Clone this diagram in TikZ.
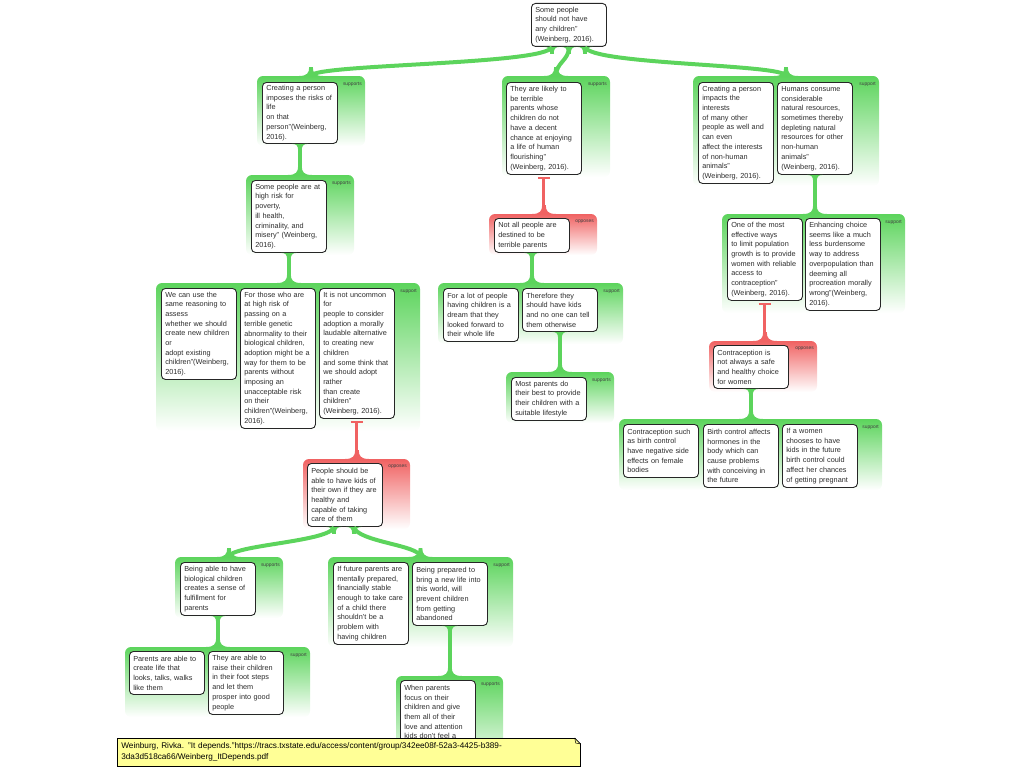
\documentclass[tikz,border=0pt]{standalone}
\usepackage{fontspec}
\setmainfont{Liberation Sans}
\usetikzlibrary{calc}
\definecolor{mapgreen}{RGB}{92,212,92}
\definecolor{mapred}{RGB}{240,98,98}
\definecolor{noteyellow}{RGB}{255,255,150}
\definecolor{ink}{RGB}{45,45,45}
\newcommand{\ideafont}{\fontsize{7.3}{9.7}\selectfont}
\newcommand{\tagfont}{\fontsize{4.9}{5}\selectfont}
\tikzset{
  idea/.style={draw=black!85, line width=0.9pt, fill=white, rounded corners=4pt, anchor=north west,
    text width=67.4pt, inner xsep=3.8pt, inner ysep=0pt, align=left, font=\ideafont, text=ink},
  grp/.style={anchor=north west, inner sep=0pt, outer sep=0pt, rounded corners=6pt,
    top color=mapgreen, bottom color=white},
  grpred/.style={grp, top color=mapred},
  tag/.style={anchor=north east, inner sep=0pt, font=\tagfont, text=black!75},
  note/.style={anchor=north west, draw=black, line width=0.7pt, fill=noteyellow, text width=455pt,
    inner xsep=4pt, inner ysep=0pt, minimum height=28pt, align=left,
    font=\fontsize{8.2}{11}\selectfont, text=black}
}
\newcommand{\footflare}[2]{% flare where a link meets a group
  \fill[#2] ($(#1)+(-1.8,-9)$) .. controls ($(#1)+(-1.8,-3)$) and ($(#1)+(-4,0)$) .. ($(#1)+(-12,0)$)
    -- ($(#1)+(12,0)$) .. controls ($(#1)+(4,0)$) and ($(#1)+(1.8,-3)$) .. ($(#1)+(1.8,-9)$) -- cycle;}
\newcommand{\headflare}[2]{% flare under a parent idea
  \fill[#2] ($(#1)+(-1.8,7)$) .. controls ($(#1)+(-1.8,2)$) and ($(#1)+(-3,0)$) .. ($(#1)+(-8,0)$)
    -- ($(#1)+(8,0)$) .. controls ($(#1)+(3,0)$) and ($(#1)+(1.8,2)$) .. ($(#1)+(1.8,7)$) -- cycle;}
\newcommand{\supportlink}[2]{% idea #1 down to group #2
  \coordinate (lnktop) at (#1.south);
  \coordinate (lnkfoot) at (#1.south |- #2.north);
  \draw[mapgreen, line width=3.6pt] (lnktop) -- (lnkfoot);
  \headflare{lnktop}{mapgreen}
  \footflare{lnkfoot}{mapgreen}}
\newcommand{\opposelink}[2]{% idea #1 down to red group #2
  \coordinate (lnktop) at (#1.south);
  \coordinate (lnkfoot) at (#1.south |- #2.north);
  \draw[mapred, line width=1.4pt] ($(lnktop)+(-6,3)$) -- ($(lnktop)+(6,3)$);
  \draw[mapred, line width=3pt] ($(lnktop)+(0,3)$) -- (lnkfoot);
  \footflare{lnkfoot}{mapred}}

\begin{document}
\begin{tikzpicture}[x=1pt, y=-1pt]
\useasboundingbox (0,0) rectangle (1024,768);
\clip (0,0) rectangle (1024,768);
% groups
\node[grp, minimum width=108pt, minimum height=70pt] (gA) at (257,76) {}; % risks of life
\node[grp, minimum width=108pt, minimum height=80pt] (gB) at (246,175) {}; % high risk
\node[grp, minimum width=264pt, minimum height=148pt] (gC) at (156,283) {}; % adoption
\node[grpred, minimum width=107pt, minimum height=70pt] (gD) at (303,459) {}; % kids of their own
\node[grp, minimum width=108pt, minimum height=61pt] (gE) at (175,557) {};
\node[grp, minimum width=185pt, minimum height=70pt] (gG) at (125,647) {};
\node[grp, minimum width=185pt, minimum height=90pt] (gF) at (328,557) {};
\node[grp, minimum width=107pt, minimum height=92pt] (gH) at (396,676) {};
\node[grp, minimum width=108pt, minimum height=101pt] (gI) at (502,76) {}; % terrible parents
\node[grpred, minimum width=108pt, minimum height=41pt] (gJ) at (489,214) {};
\node[grp, minimum width=185pt, minimum height=61pt] (gK) at (438,283) {};
\node[grp, minimum width=108pt, minimum height=51pt] (gL) at (506,372) {};
\node[grp, minimum width=186pt, minimum height=110pt] (gM) at (693,76) {}; % resources
\node[grp, minimum width=183pt, minimum height=99pt] (gN) at (722,214) {};
\node[grpred, minimum width=108pt, minimum height=51pt] (gO) at (709,341) {};
\node[grp, minimum width=263pt, minimum height=71pt] (gP) at (619,419) {};
% tags
\node[tag] (tA) at ($(gA.north east)+(-3,6)$) {supports};
\node[tag] (tB) at ($(gB.north east)+(-3,6)$) {supports};
\node[tag] (tC) at ($(gC.north east)+(-3,6)$) {support};
\node[tag] (tD) at ($(gD.north east)+(-3,6)$) {opposes};
\node[tag] (tE) at ($(gE.north east)+(-3,6)$) {supports};
\node[tag] (tG) at ($(gG.north east)+(-3,6)$) {support};
\node[tag] (tF) at ($(gF.north east)+(-3,6)$) {support};
\node[tag] (tH) at ($(gH.north east)+(-3,6)$) {supports};
\node[tag] (tI) at ($(gI.north east)+(-3,6)$) {supports};
\node[tag] (tJ) at ($(gJ.north east)+(-3,6)$) {opposes};
\node[tag] (tK) at ($(gK.north east)+(-3,6)$) {support};
\node[tag] (tL) at ($(gL.north east)+(-3,6)$) {supports};
\node[tag] (tM) at ($(gM.north east)+(-3,6)$) {support};
\node[tag] (tN) at ($(gN.north east)+(-3,6)$) {support};
\node[tag] (tO) at ($(gO.north east)+(-3,6)$) {opposes};
\node[tag] (tP) at ($(gP.north east)+(-3,6)$) {support};
% ideas
\node[idea, minimum height=43pt] (root) at (531,3) {Some people\\should not have\\any children"\\(Weinberg, 2016).};
\node[idea, minimum height=61pt] (nA) at (262,82) {Creating a person\\imposes the risks of\\life\\on that\\person"(Weinberg,\\2016).};
\node[idea, minimum height=72pt] (nB) at (251,180) {Some people are at\\high risk for\\poverty,\\ill health,\\criminality, and\\misery" (Weinberg,\\2016).};
\node[idea, minimum height=91pt] (nC1) at (161,288) {We can use the\\same reasoning to\\assess\\whether we should\\create new children\\or\\adopt existing\\children"(Weinberg,\\2016).};
\node[idea, minimum height=140pt] (nC2) at (240,288) {For those who are\\at high risk of\\passing on a\\terrible genetic\\abnormality to their\\biological children,\\adoption might be a\\way for them to be\\parents without\\imposing an\\unacceptable risk\\on their\\children"(Weinberg,\\2016).};
\node[idea, minimum height=130pt] (nC3) at (319,288) {It is not uncommon\\for\\people to consider\\adoption a morally\\laudable alternative\\to creating new\\children\\and some think that\\we should adopt\\rather\\than create\\children"\\(Weinberg, 2016).};
\node[idea, minimum height=63pt] (nD) at (307,463) {People should be\\able to have kids of\\their own if they are\\healthy and\\capable of taking\\care of them};
\node[idea, minimum height=53pt] (nE) at (180,562) {Being able to have\\biological children\\creates a sense of\\fulfillment for\\parents};
\node[idea, minimum height=43pt] (nG1) at (129,651) {Parents are able to\\create life that\\looks, talks, walks\\like them};
\node[idea, minimum height=63pt] (nG2) at (208,651) {They are able to\\raise their children\\in their foot steps\\and let them\\prosper into good\\people};
\node[idea, minimum height=82pt] (nF1) at (333,562) {If future parents are\\mentally prepared,\\financially stable\\enough to take care\\of a child there\\shouldn't be a\\problem with\\having children};
\node[idea, minimum height=63pt] (nF2) at (412,562) {Being prepared to\\bring a new life into\\this world, will\\prevent children\\from getting\\abandoned};
\node[idea, minimum height=63pt] (nH) at (400,680) {When parents\\focus on their\\children and give\\them all of their\\love and attention\\kids don't feel a};
\node[idea, minimum height=92pt] (nI) at (506,82) {They are likely to\\be terrible\\parents whose\\children do not\\have a decent\\chance at enjoying\\a life of human\\flourishing"\\(Weinberg, 2016).};
\node[idea, minimum height=34pt] (nJ) at (494,218) {Not all people are\\destined to be\\terrible parents};
\node[idea, minimum height=53pt] (nK1) at (443,288) {For a lot of people\\having children is a\\dream that they\\looked forward to\\their whole life};
\node[idea, minimum height=43pt] (nK2) at (522,288) {Therefore they\\should have kids\\and no one can tell\\them otherwise};
\node[idea, minimum height=43pt] (nL) at (511,377) {Most parents do\\their best to provide\\their children with a\\suitable lifestyle};
\node[idea, minimum height=101pt] (nM1) at (698,82) {Creating a person\\impacts the\\interests\\of many other\\people as well and\\can even\\affect the interests\\of non-human\\animals"\\(Weinberg, 2016).};
\node[idea, minimum height=92pt] (nM2) at (777,82) {Humans consume\\considerable\\natural resources,\\sometimes thereby\\depleting natural\\resources for other\\non-human\\animals"\\(Weinberg, 2016).};
\node[idea, minimum height=82pt] (nN1) at (727,218) {One of the most\\effective ways\\to limit population\\growth is to provide\\women with reliable\\access to\\contraception"\\(Weinberg, 2016).};
\node[idea, minimum height=92pt] (nN2) at (805,218) {Enhancing choice\\seems like a much\\less burdensome\\way to address\\overpopulation than\\deeming all\\procreation morally\\wrong"(Weinberg,\\2016).};
\node[idea, minimum height=43pt] (nO) at (713,345) {Contraception is\\not always a safe\\and healthy choice\\for women};
\node[idea, minimum height=53pt] (nP1) at (623,424) {Contraception such\\as birth control\\have negative side\\effects on female\\bodies};
\node[idea, minimum height=63pt] (nP2) at (703,424) {Birth control affects\\hormones in the\\body which can\\cause problems\\with conceiving in\\the future};
\node[idea, minimum height=63pt] (nP3) at (782,424) {If a women\\chooses to have\\kids in the future\\birth control could\\affect her chances\\of getting pregnant};
% links from the root
\coordinate (r1) at ($(root.south)+(-17,0)$);
\coordinate (r2) at (root.south);
\coordinate (r3) at ($(root.south)+(16,0)$);
\draw[mapgreen, line width=4pt] (r1) .. controls +(-5,18) and +(0,-12) .. (gA.north);
\draw[mapgreen, line width=4pt] (r2) .. controls +(0,14) and +(0,-14) .. (gI.north);
\draw[mapgreen, line width=4pt] (r3) .. controls +(5,18) and +(0,-12) .. (gM.north);
\headflare{r1}{mapgreen} \headflare{r2}{mapgreen} \headflare{r3}{mapgreen}
\footflare{gA.north}{mapgreen} \footflare{gI.north}{mapgreen} \footflare{gM.north}{mapgreen}
% links from nD
\coordinate (d1) at ($(nD.south)+(-11,0)$);
\coordinate (d2) at ($(nD.south)+(9,0)$);
\draw[mapgreen, line width=4pt] (d1) .. controls +(-3,15) and +(0,-12) .. (gE.north);
\draw[mapgreen, line width=4pt] (d2) .. controls +(3,15) and +(0,-12) .. (gF.north);
\headflare{d1}{mapgreen} \headflare{d2}{mapgreen}
\footflare{gE.north}{mapgreen} \footflare{gF.north}{mapgreen}
% straight links
\supportlink{nA}{gB}
\supportlink{nB}{gC}
\opposelink{nC3}{gD}
\supportlink{nE}{gG}
\supportlink{nF2}{gH}
\opposelink{nI}{gJ}
\supportlink{nJ}{gK}
\supportlink{nK2}{gL}
\supportlink{nM2}{gN}
\opposelink{nN1}{gO}
\supportlink{nO}{gP}
% reference note
\node[note] (ref) at (117,738) {Weinburg, Rivka. "It depends."https://tracs.txstate.edu/access/content/group/342ee08f-52a3-4425-b389-\\3da3d518ca66/Weinberg\_ItDepends.pdf};
\fill[white] ($(ref.north east)+(-6.5,-1)$) -- ($(ref.north east)+(1,-1)$) -- ($(ref.north east)+(1,6.5)$) -- cycle; % folded corner
\draw[line width=0.7pt] ($(ref.north east)+(-6,0)$) -- ($(ref.north east)+(0,6)$);
\draw[line width=0.5pt] ($(ref.north east)+(-6,0)$) -- ($(ref.north east)+(-5,5)$) -- ($(ref.north east)+(0,6)$);
\end{tikzpicture}
\end{document}
